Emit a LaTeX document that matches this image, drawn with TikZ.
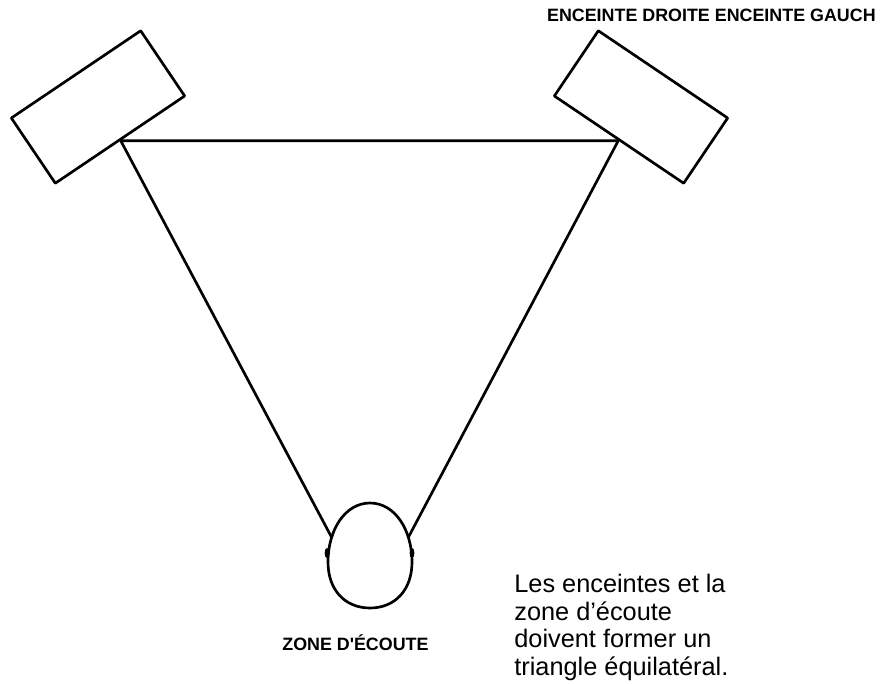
\documentclass[tikz,border=0pt]{standalone}
\usepackage{fontspec}
\newfontfamily\labelfont{Liberation Sans}[Ligatures=TeXOff]
\usetikzlibrary{positioning}

\begin{document}
\begin{tikzpicture}[x=0.75pt,y=-0.75pt,line width=2pt,line join=round,
  speaker/.style={draw,minimum width=117pt,minimum height=59pt,inner sep=0pt},
  caption/.style={font=\labelfont\bfseries\fontsize{13.4}{16}\selectfont,inner sep=0pt},
  note/.style={font=\labelfont\fontsize{19}{20.6}\selectfont,align=left,inner sep=0pt}]
  \useasboundingbox (0,0) rectangle (881,684);
  % speakers
  \node (1) [speaker,rotate=34] at (98,107) {};
  \node (2) [speaker,rotate=-34] at (641,107) {};
  % listener
  \draw (370,608) .. controls (345,608) and (328,590) .. (328,562)
    .. controls (328,530) and (345,503) .. (370,503)
    .. controls (395,503) and (412,530) .. (412,562)
    .. controls (412,590) and (395,608) .. (370,608) -- cycle;
  \fill (327,553) ellipse [x radius=1.8pt, y radius=3.8pt];
  \fill (412,553) ellipse [x radius=1.8pt, y radius=3.8pt];
  \coordinate (3) at (332,538);
  \coordinate (4) at (408,538);
  \draw (3) -- (1.south) -- (2.south) -- (4);
  % labels
  \node (5) [caption,anchor=base east] at (877,22) {ENCEINTE DROITE ENCEINTE GAUCH};
  \node (6) [caption,anchor=base west] at (281,650) {ZONE D'ÉCOUTE};
  \node (7) [note,anchor=base west] at (513,675) {Les enceintes et la\\zone d’écoute\\doivent former un\\triangle équilatéral.};
\end{tikzpicture}
\end{document}
